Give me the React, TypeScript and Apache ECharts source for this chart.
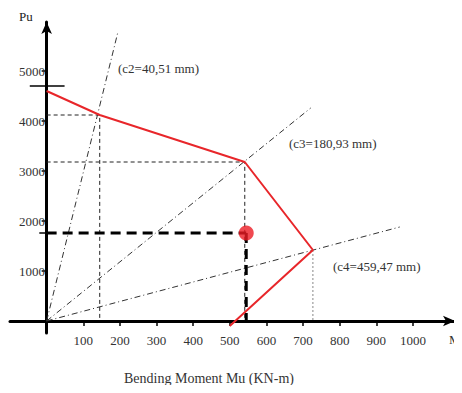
import React, { useEffect, useRef } from "react";
import * as echarts from "echarts";

const muTicks = [100, 200, 300, 400, 500, 600, 700, 800, 900, 1000];
const puTicks = [1000, 2000, 3000, 4000, 5000];

// interaction diagram (Mu, Pu)
const curveMu = [0, 145, 541, 727, 500];
const curvePu = [4600, 4120, 3180, 1420, -100];

// neutral-axis rays from origin
const rayC2 = [[0, 0], [194, 5760]];
const rayC3 = [[0, 0], [721, 4260]];
const rayC4 = [[0, 0], [964, 1880]];

// guides to the three marked points
const guideC2 = [[0, 4120], [145, 4120], [145, 0]];
const guideC3 = [[0, 3180], [541, 3180], [541, 0]];
const guideC4 = [[727, 1420], [727, 0]];

// design point
const designPoint = [545, 1760];
const designH = [[0, 1760], [545, 1760]];
const designV = [[545, 1760], [545, 0]];

// extra marks on the Pu axis
const tickTop = [[-46, 4700], [49, 4700]];
const tickDesign = [[-20, 1760], [20, 1760]];

const labels = ["(c2=40,51 mm)", "(c3=180,93 mm)", "(c4=459,47 mm)"];

const FONT = "Liberation Serif";

export default function App() {
  const ref = useRef<HTMLDivElement>(null);
  useEffect(() => {
    if (!ref.current) return;
    const chart = echarts.init(ref.current, null, { renderer: "svg" });
    const lineSeries = (data: number[][], style: any, z = 2) => ({
      type: "line",
      data,
      symbol: "none",
      lineStyle: style,
      z,
      silent: true,
    });
    chart.setOption({
      animation: false,
      backgroundColor: "#ffffff",
      grid: { left: 10, width: 445, top: 22, height: 311, outerBoundsMode: "none", containLabel: false },
      xAxis: {
        type: "value",
        min: -100,
        max: 1115,
        splitLine: { show: false },
        axisLine: {
          onZero: true,
          symbol: ["none", "arrow"],
          symbolSize: [8, 12],
          lineStyle: { color: "#000", width: 3 },
        },
        axisTick: {
          show: true,
          customValues: muTicks,
          length: 5,
          lineStyle: { color: "#000", width: 1.5 },
        },
        axisLabel: {
          customValues: muTicks,
          margin: 1,
          fontFamily: FONT,
          fontSize: 13,
          color: "#333",
          formatter: (v: number) => String(v),
        },
      },
      yAxis: {
        type: "value",
        min: -240,
        max: 5980,
        splitLine: { show: false },
        axisLine: {
          onZero: true,
          symbol: ["none", "arrow"],
          symbolSize: [8, 12],
          lineStyle: { color: "#000", width: 3 },
        },
        axisTick: {
          show: true,
          customValues: puTicks,
          length: 5,
          lineStyle: { color: "#000", width: 1.5 },
        },
        axisLabel: {
          customValues: puTicks,
          margin: -35,
          fontFamily: FONT,
          fontSize: 13,
          color: "#333",
          formatter: (v: number) => String(v),
        },
      },
      series: [
        lineSeries(rayC2, { color: "#333", width: 1, type: [6, 3, 1, 3] }),
        lineSeries(rayC3, { color: "#333", width: 1, type: [6, 3, 1, 3] }),
        lineSeries(rayC4, { color: "#333", width: 1, type: [6, 3, 1, 3] }),
        lineSeries(guideC2, { color: "#222", width: 1, type: [4, 3] }),
        lineSeries(guideC3, { color: "#222", width: 1, type: [4, 3] }),
        lineSeries(guideC4, { color: "#888", width: 1, type: [2, 2] }),
        lineSeries(tickTop, { color: "#000", width: 1.5 }),
        lineSeries(tickDesign, { color: "#000", width: 1.5 }),
        lineSeries(designH, { color: "#000", width: 3, type: [10, 6] }, 3),
        lineSeries(designV, { color: "#000", width: 3, type: [10, 6] }, 3),
        {
          type: "line",
          data: curveMu.map((m, i) => [m, curvePu[i]]),
          symbol: "none",
          lineStyle: { color: "#e8262a", width: 2 },
          z: 4,
          silent: true,
        },
        {
          type: "scatter",
          data: [designPoint],
          symbol: "circle",
          symbolSize: 15,
          itemStyle: { color: "#ec1c24" },
          z: 5,
          silent: true,
        },
      ],
      graphic: [
        { type: "text", left: 19, top: 10, style: { text: "Pu", font: `13px "${FONT}"`, fill: "#222" } },
        { type: "text", left: 118, top: 62, style: { text: labels[0], font: `13px "${FONT}"`, fill: "#333" } },
        { type: "text", left: 289, top: 137, style: { text: labels[1], font: `13px "${FONT}"`, fill: "#333" } },
        { type: "text", left: 333, top: 260, style: { text: labels[2], font: `13px "${FONT}"`, fill: "#333" } },
        { type: "text", left: 124, top: 371, style: { text: "Bending Moment Mu (KN-m)", font: `14px "${FONT}"`, fill: "#333" } },
        { type: "text", left: 449, top: 333, style: { text: "Mu", font: `13px "${FONT}"`, fill: "#333" } },
      ],
    });
    return () => chart.dispose();
  }, []);
  return <div ref={ref} style={{ width: 462, height: 393, margin: -8 }} />;
}
